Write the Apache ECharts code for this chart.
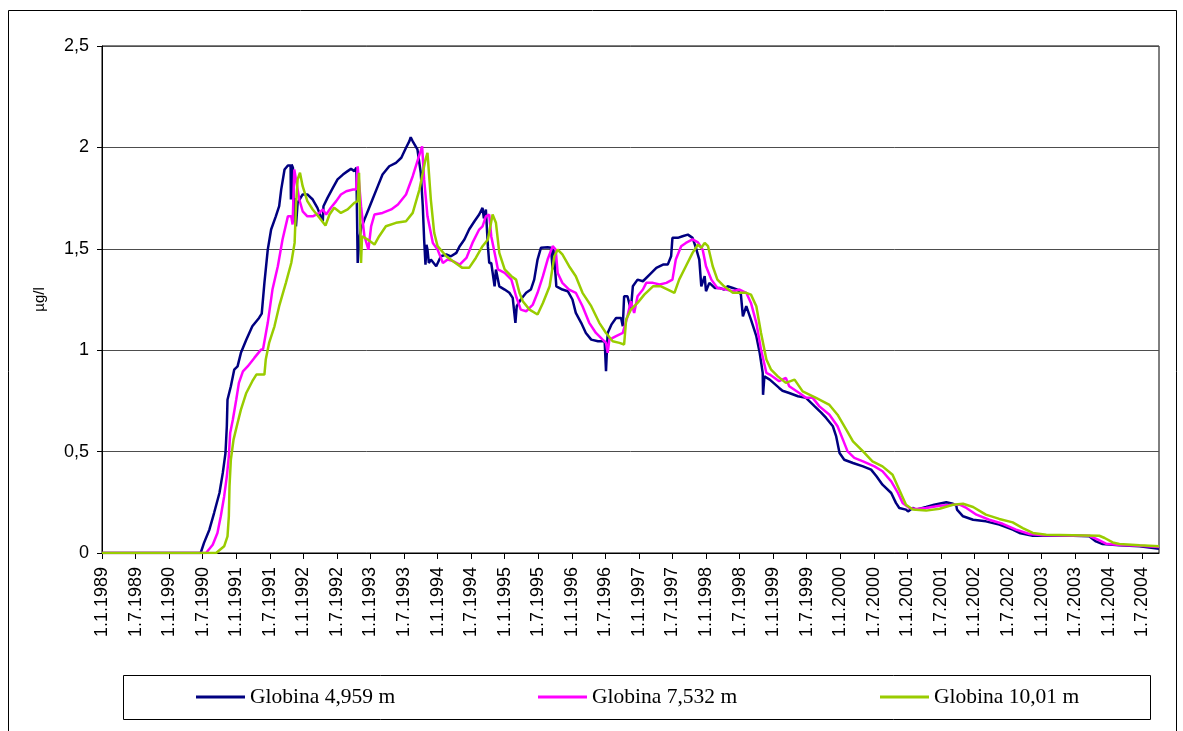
<!DOCTYPE html>
<html>
<head>
<meta charset="utf-8">
<script src="https://cdn.jsdelivr.net/npm/echarts@6/dist/echarts.min.js"></script>
<style>
html,body{margin:0;padding:0;background:#fff;}
#chart{width:1183px;height:731px;}
</style>
</head>
<body>
<div id="chart"></div>
<script>
// x = decimal year, y = µg/l
const seriesNames = ['Globina 4,959 m', 'Globina 7,532 m', 'Globina 10,01 m'];
const seriesColors = ['#000080', '#FF00FF', '#99CC00'];

const tickLabels = ['1.1.1989','1.7.1989','1.1.1990','1.7.1990','1.1.1991','1.7.1991','1.1.1992','1.7.1992',
  '1.1.1993','1.7.1993','1.1.1994','1.7.1994','1.1.1995','1.7.1995','1.1.1996','1.7.1996','1.1.1997','1.7.1997',
  '1.1.1998','1.7.1998','1.1.1999','1.7.1999','1.1.2000','1.7.2000','1.1.2001','1.7.2001','1.1.2002','1.7.2002',
  '1.1.2003','1.7.2003','1.1.2004','1.7.2004'];

const globina4959 = [[1989.00,0],[1990.47,0],[1990.52,0.05],[1990.60,0.115],[1990.67,0.197],[1990.75,0.296],[1990.80,0.395],[1990.84,0.493],[1990.86,0.625],[1990.87,0.756],[1990.92,0.822],[1990.97,0.904],[1991.02,0.92],[1991.07,0.987],[1991.15,1.052],[1991.24,1.118],[1991.34,1.159],[1991.38,1.18],[1991.42,1.332],[1991.47,1.496],[1991.52,1.595],[1991.59,1.66],[1991.64,1.71],[1991.67,1.792],[1991.72,1.891],[1991.77,1.911],[1991.81,1.911],[1991.815,1.743],[1991.825,1.916],[1991.845,1.90],[1991.86,1.63],[1991.875,1.75],[1991.89,1.611],[1991.915,1.727],[1991.99,1.768],[1992.06,1.768],[1992.14,1.743],[1992.21,1.702],[1992.26,1.66],[1992.29,1.636],[1992.30,1.71],[1992.36,1.751],[1992.44,1.80],[1992.51,1.842],[1992.59,1.866],[1992.66,1.883],[1992.71,1.894],[1992.76,1.883],[1992.79,1.90],[1992.81,1.43],[1992.835,1.55],[1992.86,1.60],[1992.91,1.644],[1992.96,1.685],[1993.03,1.743],[1993.11,1.809],[1993.18,1.866],[1993.28,1.907],[1993.38,1.924],[1993.46,1.949],[1993.53,1.998],[1993.58,2.031],[1993.60,2.05],[1993.63,2.03],[1993.70,1.99],[1993.75,1.875],[1993.78,1.71],[1993.80,1.546],[1993.82,1.422],[1993.835,1.52],[1993.85,1.496],[1993.87,1.43],[1993.90,1.447],[1993.98,1.414],[1994.05,1.463],[1994.13,1.472],[1994.20,1.463],[1994.28,1.48],[1994.33,1.513],[1994.40,1.546],[1994.47,1.595],[1994.55,1.636],[1994.62,1.669],[1994.67,1.702],[1994.69,1.65],[1994.72,1.694],[1994.75,1.513],[1994.77,1.43],[1994.80,1.43],[1994.85,1.315],[1994.87,1.398],[1994.92,1.315],[1995.00,1.299],[1995.07,1.283],[1995.12,1.258],[1995.16,1.135],[1995.18,1.217],[1995.24,1.25],[1995.32,1.283],[1995.39,1.299],[1995.44,1.348],[1995.49,1.447],[1995.54,1.505],[1995.64,1.508],[1995.69,1.505],[1995.715,1.398],[1995.73,1.50],[1995.77,1.315],[1995.86,1.299],[1995.94,1.291],[1996.01,1.25],[1996.06,1.184],[1996.14,1.135],[1996.21,1.085],[1996.29,1.052],[1996.39,1.044],[1996.49,1.044],[1996.51,0.896],[1996.535,1.085],[1996.59,1.126],[1996.66,1.159],[1996.735,1.159],[1996.76,1.118],[1996.78,1.266],[1996.83,1.266],[1996.88,1.20],[1996.91,1.315],[1996.98,1.348],[1997.06,1.34],[1997.16,1.373],[1997.26,1.406],[1997.36,1.422],[1997.43,1.422],[1997.48,1.463],[1997.50,1.554],[1997.58,1.554],[1997.65,1.562],[1997.73,1.570],[1997.80,1.554],[1997.85,1.505],[1997.90,1.447],[1997.93,1.315],[1997.98,1.365],[1998.00,1.291],[1998.05,1.332],[1998.13,1.307],[1998.20,1.307],[1998.27,1.299],[1998.32,1.315],[1998.40,1.307],[1998.47,1.299],[1998.52,1.274],[1998.55,1.167],[1998.60,1.217],[1998.67,1.151],[1998.75,1.069],[1998.80,0.987],[1998.845,0.888],[1998.85,0.78],[1998.87,0.871],[1998.95,0.855],[1999.09,0.814],[1999.14,0.80],[1999.24,0.789],[1999.37,0.773],[1999.49,0.765],[1999.62,0.723],[1999.72,0.691],[1999.79,0.666],[1999.89,0.625],[1999.94,0.575],[1999.99,0.493],[2000.06,0.46],[2000.19,0.444],[2000.34,0.427],[2000.46,0.411],[2000.54,0.378],[2000.63,0.337],[2000.76,0.296],[2000.83,0.247],[2000.88,0.222],[2000.98,0.214],[2001.01,0.205],[2001.08,0.222],[2001.13,0.214],[2001.28,0.227],[2001.40,0.238],[2001.58,0.25],[2001.68,0.243],[2001.73,0.233],[2001.74,0.214],[2001.83,0.181],[2001.98,0.164],[2002.17,0.156],[2002.37,0.14],[2002.57,0.115],[2002.67,0.099],[2002.87,0.085],[2003.17,0.085],[2003.47,0.085],[2003.71,0.082],[2003.81,0.057],[2003.91,0.044],[2004.16,0.038],[2004.46,0.033],[2004.75,0.021]];

const globina7532 = [[1989.00,0],[1990.55,0],[1990.65,0.041],[1990.72,0.099],[1990.77,0.181],[1990.82,0.279],[1990.86,0.378],[1990.89,0.477],[1990.91,0.592],[1990.95,0.658],[1991.00,0.756],[1991.04,0.839],[1991.10,0.896],[1991.17,0.92],[1991.27,0.962],[1991.37,1.003],[1991.40,1.006],[1991.47,1.135],[1991.54,1.299],[1991.62,1.414],[1991.69,1.546],[1991.77,1.66],[1991.82,1.66],[1991.84,1.62],[1991.865,1.891],[1991.89,1.883],[1991.94,1.743],[1991.99,1.685],[1992.06,1.66],[1992.14,1.66],[1992.24,1.677],[1992.29,1.694],[1992.34,1.669],[1992.41,1.702],[1992.49,1.735],[1992.56,1.768],[1992.64,1.784],[1992.74,1.792],[1992.785,1.792],[1992.81,1.907],[1992.86,1.71],[1992.91,1.562],[1992.97,1.496],[1993.01,1.611],[1993.06,1.669],[1993.18,1.677],[1993.31,1.694],[1993.41,1.718],[1993.53,1.768],[1993.63,1.858],[1993.70,1.932],[1993.77,2.005],[1993.80,1.842],[1993.85,1.66],[1993.93,1.529],[1994.00,1.496],[1994.08,1.43],[1994.15,1.447],[1994.23,1.439],[1994.33,1.422],[1994.43,1.455],[1994.52,1.529],[1994.62,1.595],[1994.67,1.611],[1994.72,1.66],[1994.77,1.669],[1994.80,1.562],[1994.85,1.48],[1994.90,1.398],[1995.00,1.381],[1995.10,1.348],[1995.17,1.266],[1995.24,1.20],[1995.32,1.192],[1995.42,1.225],[1995.49,1.283],[1995.57,1.365],[1995.64,1.447],[1995.715,1.513],[1995.76,1.496],[1995.79,1.381],[1995.86,1.332],[1995.96,1.299],[1996.06,1.283],[1996.16,1.217],[1996.26,1.135],[1996.36,1.085],[1996.46,1.052],[1996.51,1.036],[1996.535,0.987],[1996.56,1.052],[1996.66,1.069],[1996.76,1.085],[1996.83,1.167],[1996.88,1.241],[1996.93,1.184],[1996.98,1.266],[1997.06,1.299],[1997.11,1.332],[1997.21,1.332],[1997.31,1.324],[1997.41,1.332],[1997.50,1.348],[1997.55,1.447],[1997.63,1.513],[1997.70,1.529],[1997.80,1.546],[1997.88,1.532],[1997.95,1.496],[1998.00,1.414],[1998.08,1.348],[1998.17,1.307],[1998.30,1.299],[1998.40,1.291],[1998.50,1.299],[1998.60,1.283],[1998.67,1.233],[1998.75,1.135],[1998.82,1.003],[1998.90,0.888],[1998.95,0.88],[1999.09,0.847],[1999.19,0.863],[1999.24,0.822],[1999.39,0.789],[1999.49,0.765],[1999.59,0.765],[1999.69,0.723],[1999.84,0.682],[1999.96,0.625],[2000.04,0.559],[2000.11,0.501],[2000.21,0.469],[2000.34,0.452],[2000.51,0.427],[2000.63,0.403],[2000.76,0.353],[2000.86,0.296],[2000.93,0.247],[2001.03,0.222],[2001.13,0.217],[2001.28,0.222],[2001.48,0.233],[2001.68,0.238],[2001.78,0.238],[2001.88,0.222],[2002.03,0.189],[2002.22,0.164],[2002.42,0.144],[2002.62,0.115],[2002.82,0.094],[2003.02,0.087],[2003.71,0.085],[2003.84,0.066],[2003.96,0.046],[2004.16,0.039],[2004.46,0.036],[2004.75,0.03]];

const globina1001 = [[1989.00,0],[1990.70,0],[1990.82,0.033],[1990.87,0.082],[1990.89,0.181],[1990.90,0.329],[1990.92,0.46],[1990.96,0.559],[1991.02,0.641],[1991.07,0.707],[1991.15,0.789],[1991.24,0.847],[1991.30,0.88],[1991.34,0.88],[1991.42,0.88],[1991.44,0.954],[1991.49,1.036],[1991.57,1.118],[1991.64,1.217],[1991.74,1.332],[1991.82,1.43],[1991.87,1.529],[1991.89,1.71],[1991.915,1.842],[1991.95,1.875],[1991.99,1.809],[1992.06,1.735],[1992.14,1.694],[1992.24,1.653],[1992.33,1.615],[1992.39,1.669],[1992.46,1.702],[1992.56,1.677],[1992.66,1.694],[1992.76,1.727],[1992.81,1.735],[1992.83,1.875],[1992.85,1.60],[1992.86,1.43],[1992.875,1.562],[1992.96,1.546],[1993.06,1.521],[1993.13,1.562],[1993.23,1.611],[1993.38,1.628],[1993.53,1.636],[1993.63,1.677],[1993.73,1.792],[1993.82,1.94],[1993.85,1.973],[1993.90,1.743],[1993.95,1.579],[1994.00,1.513],[1994.13,1.463],[1994.23,1.439],[1994.37,1.406],[1994.47,1.406],[1994.57,1.455],[1994.67,1.513],[1994.75,1.546],[1994.82,1.669],[1994.87,1.628],[1994.92,1.48],[1995.00,1.398],[1995.10,1.365],[1995.17,1.348],[1995.22,1.283],[1995.27,1.241],[1995.37,1.20],[1995.49,1.176],[1995.57,1.233],[1995.67,1.315],[1995.74,1.463],[1995.79,1.496],[1995.86,1.472],[1995.96,1.414],[1996.06,1.365],[1996.16,1.283],[1996.29,1.217],[1996.41,1.135],[1996.51,1.085],[1996.61,1.044],[1996.71,1.036],[1996.78,1.028],[1996.81,1.151],[1996.88,1.20],[1996.98,1.233],[1997.08,1.274],[1997.21,1.315],[1997.33,1.315],[1997.43,1.299],[1997.53,1.283],[1997.60,1.348],[1997.70,1.414],[1997.80,1.48],[1997.88,1.521],[1997.93,1.505],[1997.98,1.529],[1998.03,1.513],[1998.10,1.414],[1998.17,1.348],[1998.27,1.315],[1998.40,1.283],[1998.50,1.283],[1998.60,1.283],[1998.67,1.274],[1998.75,1.217],[1998.82,1.085],[1998.90,0.954],[1998.97,0.904],[1999.07,0.871],[1999.19,0.839],[1999.32,0.855],[1999.44,0.797],[1999.64,0.765],[1999.84,0.73],[1999.96,0.682],[2000.09,0.608],[2000.19,0.551],[2000.34,0.501],[2000.48,0.452],[2000.63,0.427],[2000.78,0.386],[2000.88,0.312],[2000.98,0.238],[2001.08,0.214],[2001.28,0.209],[2001.48,0.218],[2001.68,0.238],[2001.83,0.243],[2001.98,0.227],[2002.17,0.189],[2002.37,0.168],[2002.57,0.151],[2002.72,0.123],[2002.87,0.099],[2003.07,0.09],[2003.86,0.085],[2003.94,0.074],[2004.06,0.052],[2004.16,0.044],[2004.46,0.038],[2004.75,0.033]];

const yTicks = [0, 0.5, 1, 1.5, 2, 2.5];

// derive tick positions from the label text ("1.1.YYYY" -> YYYY, "1.7.YYYY" -> YYYY.5)
const tickValues = tickLabels.map(function (s) {
  const p = s.split('.');
  return Number(p[2]) + (p[1] === '7' ? 0.5 : 0);
});
const labelByValue = {};
tickValues.forEach(function (v, i) { labelByValue[v.toFixed(2)] = tickLabels[i]; });

const seriesData = [globina4959, globina7532, globina1001];
const AX_FONT = 'Liberation Sans, Arial, sans-serif';
const LEG_FONT = 'Liberation Serif, Times New Roman, serif';

const chart = echarts.init(document.getElementById('chart'), null, { renderer: 'canvas' });

const legendLefts = [196, 538, 880];

const option = {
  animation: false,
  backgroundColor: '#ffffff',
  grid: {
    left: 102, right: 24, top: 46, bottom: 178,
    show: true, borderColor: '#000000', borderWidth: 1, backgroundColor: 'transparent'
  },
  xAxis: {
    type: 'value',
    min: 1989,
    max: 2004.75,
    interval: 0.5,
    axisLine: { show: true, lineStyle: { color: '#000', width: 1 } },
    axisTick: { show: true, inside: false, length: 6, lineStyle: { color: '#000' }, customValues: tickValues },
    splitLine: { show: false },
    axisLabel: {
      customValues: tickValues,
      rotate: 90,
      margin: 14,
      fontFamily: AX_FONT,
      fontSize: 18,
      color: '#000',
      formatter: function (v) { return labelByValue[Number(v).toFixed(2)] || ''; }
    }
  },
  yAxis: {
    type: 'value',
    min: 0,
    max: 2.5,
    interval: 0.5,
    name: 'µg/l',
    nameLocation: 'middle',
    nameRotate: 90,
    nameGap: 55,
    nameTextStyle: { fontFamily: AX_FONT, fontSize: 15, color: '#000' },
    axisLine: { show: true, lineStyle: { color: '#000', width: 1 } },
    axisTick: { show: true, inside: false, length: 5, lineStyle: { color: '#000' } },
    splitLine: { show: true, lineStyle: { color: '#4d4d4d', width: 1 } },
    axisLabel: {
      margin: 13,
      fontFamily: AX_FONT,
      fontSize: 18,
      color: '#000',
      formatter: function (v) { return String(v).replace('.', ','); }
    }
  },
  legend: seriesNames.map(function (n, i) {
    return {
      data: [n],
      left: legendLefts[i],
      top: 686,
      padding: 0,
      icon: 'rect',
      itemWidth: 49,
      itemHeight: 3,
      selectedMode: false,
      textStyle: { fontFamily: LEG_FONT, fontSize: 21.5, color: '#000' }
    };
  }),
  graphic: [
    { type: 'rect', shape: { x: 8.5, y: 10.5, width: 1168, height: 760 },
      style: { fill: 'none', stroke: '#000', lineWidth: 1 }, silent: true, z: -1 },
    { type: 'rect', shape: { x: 123.5, y: 675.5, width: 1027, height: 44 },
      style: { fill: 'none', stroke: '#000', lineWidth: 1 }, silent: true }
  ],
  series: seriesNames.map(function (n, i) {
    return {
      name: n,
      type: 'line',
      data: seriesData[i],
      showSymbol: false,
      symbol: 'none',
      smooth: false,
      lineStyle: { color: seriesColors[i], width: 2.5 },
      itemStyle: { color: seriesColors[i] },
      z: 2 + i
    };
  })
};

chart.setOption(option);
</script>
</body>
</html>
